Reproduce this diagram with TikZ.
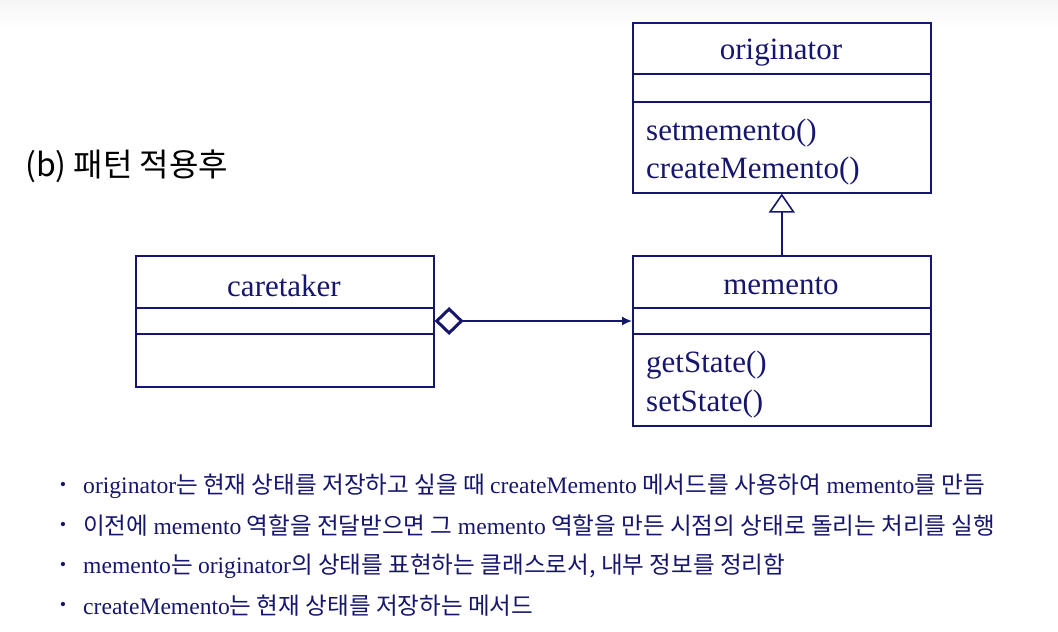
\documentclass[tikz,border=0pt]{standalone}
\usepackage{fontspec}
\setmainfont{Liberation Serif}
\newfontfamily\kr{Noto Sans CJK KR}
\usetikzlibrary{arrows.meta,positioning}
\definecolor{uml}{RGB}{22,22,110}
\newcommand\lat[1]{{\rmfamily #1}}
\begin{document}
\begin{tikzpicture}[x=1pt,y=-1pt,
  cls/.style={draw=uml,line width=1.6pt,minimum width=298pt,anchor=north west,inner sep=0pt},
  title/.style={text=uml,font=\fontsize{31}{35}\selectfont},
  meth/.style={text=uml,anchor=west,inner sep=0pt,font=\fontsize{31}{35}\selectfont},
  item/.style={text=uml,anchor=west,inner sep=0pt,font=\kr\fontsize{23.6}{27}\selectfont},
  dot/.style={text=uml,inner sep=0pt,font=\fontsize{18}{20}\selectfont}]
\useasboundingbox (0,0) rectangle (1058,632);
\shade[top color=gray!7,bottom color=white] (0,0) rectangle (1058,28);
\node[anchor=west,inner sep=0pt,font=\kr\fontsize{32}{36}\selectfont] (cap) at (25,166) {(b) 패턴 적용후};

\node[cls,minimum height=170pt] (orig) at (632,22) {};
\draw[uml,line width=1.6pt] ([yshift=-52pt]orig.north west) -- ([yshift=-52pt]orig.north east);
\draw[uml,line width=1.6pt] ([yshift=-80pt]orig.north west) -- ([yshift=-80pt]orig.north east);
\node[title] (origname) at (781,53) {originator};
\node[meth] (setmem) at (646,133) {setmemento()};
\node[meth] (createmem) at (646,171) {createMemento()};

\node[cls,minimum height=131pt] (care) at (135,255) {};
\draw[uml,line width=1.6pt] ([yshift=-53pt]care.north west) -- ([yshift=-53pt]care.north east);
\draw[uml,line width=1.6pt] ([yshift=-79pt]care.north west) -- ([yshift=-79pt]care.north east);
\node[title] (carename) at (284,286) {caretaker};

\node[cls,minimum height=170pt] (mem) at (632,255) {};
\draw[uml,line width=1.6pt] ([yshift=-53pt]mem.north west) -- ([yshift=-53pt]mem.north east);
\draw[uml,line width=1.6pt] ([yshift=-79pt]mem.north west) -- ([yshift=-79pt]mem.north east);
\node[title] (memname) at (781,286) {memento};
\node[meth] (getst) at (646,365) {getState()};
\node[meth] (setst) at (646,404) {setState()};

\draw[uml,line width=1.6pt,-{Triangle[open,length=19pt,width=26pt]}] (mem.north) -- (orig.south);
\draw[uml,line width=1.6pt,{Diamond[open,length=29pt,width=28pt,line width=3pt]}-{Latex[length=10pt,width=9pt]}]
  ([yshift=-66pt]care.north east) -- ([yshift=-66pt]mem.north west);

\foreach \t [count=\i] in {
  {\lat{originator}는 현재 상태를 저장하고 싶을 때 \lat{createMemento} 메서드를 사용하여 \lat{memento}를 만듬},
  {이전에 \lat{memento} 역할을 전달받으면 그 \lat{memento} 역할을 만든 시점의 상태로 돌리는 처리를 실행},
  {\lat{memento}는 \lat{originator}의 상태를 표현하는 클래스로서, 내부 정보를 정리함},
  {\lat{createMemento}는 현재 상태를 저장하는 메서드}}{
  \node[dot] (dot\i) at (63,446+40*\i) {\textbullet};
  \node[item] (item\i) at (83,446+40*\i) {\t};
}
\end{tikzpicture}
\end{document}
